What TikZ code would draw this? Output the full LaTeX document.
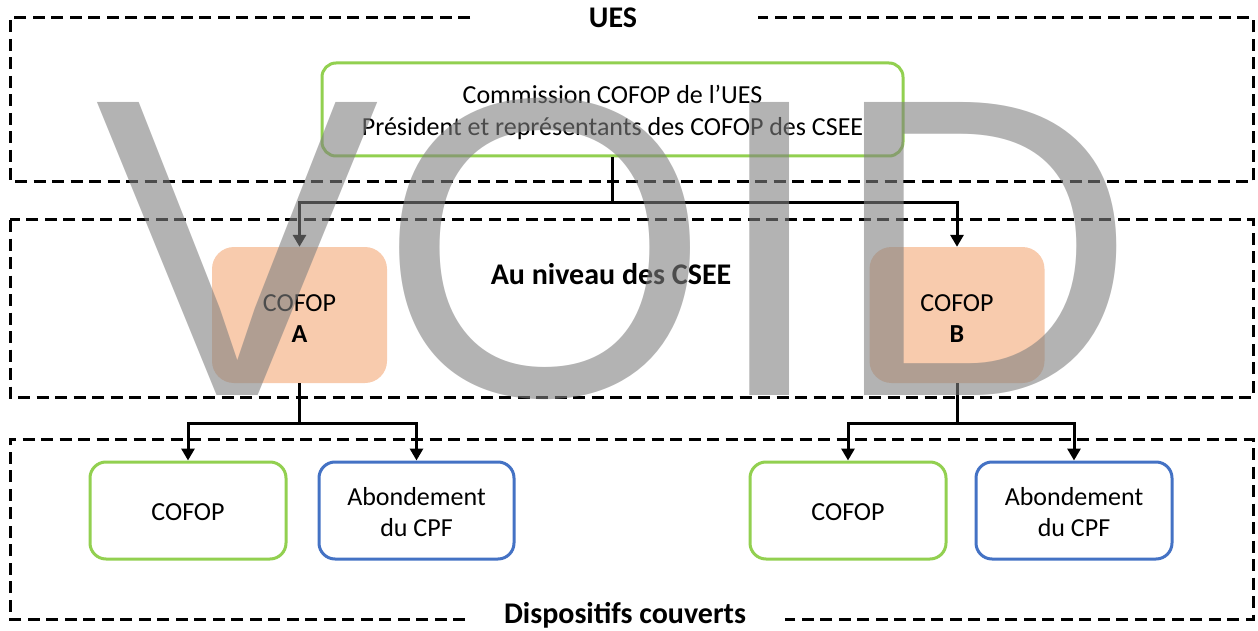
\documentclass[tikz,border=0pt]{standalone}
\usepackage{fontspec}
\setmainfont{Carlito}
\newfontfamily\wmfont{Liberation Sans}
\usetikzlibrary{arrows.meta}
\definecolor{boxgreen}{RGB}{146,208,80}
\definecolor{boxblue}{RGB}{68,114,196}
\definecolor{peach}{RGB}{248,203,173}
\definecolor{wmgray}{RGB}{128,128,128}
\newcommand{\upstrut}[1]{\rule{0pt}{#1}}
\tikzset{
  dashbox/.style={line width=3pt, dash pattern=on 12pt off 6.5pt},
  greenbox/.style={draw=boxgreen, line width=3pt, rounded corners=14pt, align=center, inner sep=0pt, font=\fontsize{26}{32}\selectfont},
  bluebox/.style={draw=boxblue, line width=3pt, rounded corners=16pt, align=center, inner sep=0pt, font=\fontsize{26}{31}\selectfont},
  peachbox/.style={fill=peach, rounded corners=22pt, align=center, inner sep=0pt, minimum width=175pt, minimum height=136pt, font=\fontsize{26}{31}\selectfont},
  conn/.style={line width=3pt, -{Triangle[width=13pt,length=12pt]}},
  titletext/.style={font=\bfseries\fontsize{30}{34}\selectfont, inner sep=0pt}
}
\begin{document}
\begin{tikzpicture}[x=1pt,y=-1pt]
\useasboundingbox (0,0) rectangle (1258,631);
% dashed frames
\draw[dashbox] (470,18) -- (10,18) -- (10,182) -- (1253,182) -- (1253,18) -- (758,18);
\draw[dashbox] (10,220) rectangle (1253,397);
\draw[dashbox] (465,619) -- (10,619) -- (10,439) -- (1253,439) -- (1253,619) -- (785,619);
% titles
\node[titletext] (tues) at (613,18) {UES};
\node[titletext] (tcsee) at (611,274) {Au niveau des CSEE};
\node[titletext] (tdisp) at (625,615) {Dispositifs couverts};
% top box
\node[greenbox, minimum width=581pt, minimum height=93pt] (ues) at (612.5,109.5)
  {\upstrut{25pt}Commission COFOP de l’UES\\Président et représentants des COFOP des CSEE};
% CSEE boxes
\node[peachbox] (a) at (299.5,315) {\upstrut{23pt}COFOP\\\textbf{A}};
\node[peachbox] (b) at (957,315) {\upstrut{23pt}COFOP\\\textbf{B}};
% bottom boxes
\node[greenbox, rounded corners=16pt, minimum width=196pt, minimum height=97pt] (a1) at (188,510.5) {\upstrut{21pt}COFOP};
\node[bluebox, minimum width=195pt, minimum height=97pt] (a2) at (416.5,510.5) {\upstrut{22pt}Abondement\\du CPF};
\node[greenbox, rounded corners=16pt, minimum width=196pt, minimum height=97pt] (b1) at (848,510.5) {\upstrut{21pt}COFOP};
\node[bluebox, minimum width=196pt, minimum height=97pt] (b2) at (1074,510.5) {\upstrut{22pt}Abondement\\du CPF};
% connectors
\draw[conn] (ues.south) -- ++(0,45) -| (a.north);
\draw[conn] (ues.south) -- ++(0,45) -| (b.north);
\draw[conn] (a.south) -- ++(0,40) -| (a1.north);
\draw[conn] (a.south) -- ++(0,40) -| (a2.north);
\draw[conn] (b.south) -- ++(0,40) -| (b1.north);
\draw[conn] (b.south) -- ++(0,40) -| (b2.north);
% watermark
\node[anchor=base west, inner sep=0pt, text=wmgray, text opacity=0.6,
      font=\wmfont\fontsize{426}{426}\selectfont] (void) at (95,395) {VOID};
\end{tikzpicture}
\end{document}
